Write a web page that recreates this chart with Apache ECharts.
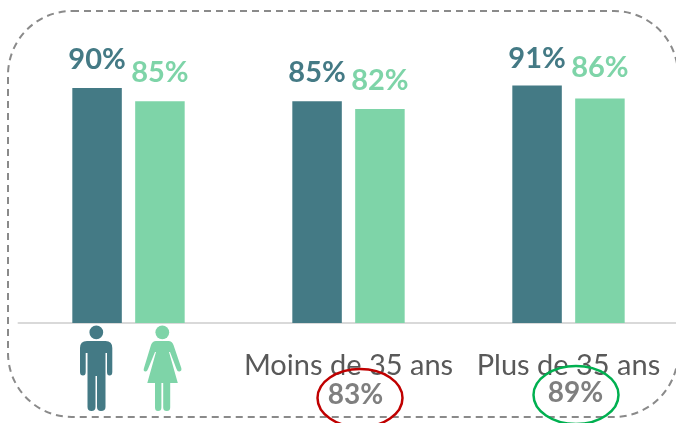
<!DOCTYPE html>
<html>
<head>
<meta charset="utf-8">
<style>html,body{margin:0;padding:0;background:#fff}#c{width:676px;height:423px}</style>
<script src="https://cdn.jsdelivr.net/npm/echarts@6/dist/echarts.min.js"></script>
</head>
<body>
<div id="c"></div>
<script>
const categories = ['', 'Moins de 35 ans', 'Plus de 35 ans'];
const hommes = [90, 85, 91];
const femmes = [85, 82, 86];
const totals = ['83%', '89%'];

const DARK = '#447A85', GREEN = '#7ED4A8', FONT = 'Lato, Carlito, "Open Sans", sans-serif';
const hommesNudge = [0, 0, 2];
const femmesNudge = [0, 0, -2];
const barSeries = (name, data, color, nudge) => ({
  name, type: 'bar', barWidth: 49.5, barGap: '27%',
  data: data.map((value, i) => ({ value, label: { offset: [0, nudge[i]] } })),
  itemStyle: { color },
  label: {
    show: true, position: 'top', distance: 14, color,
    fontFamily: FONT, fontSize: 29, fontWeight: 'bold',
    formatter: p => p.value + '%'
  }
});

const man = 'M87 341 H105.5 Q112.3 341 112.3 348 V372 Q112.3 375.5 109.5 375.5 Q107 375.5 107 372 V353 H105.5 V407 Q105.5 411 101 411 Q97 411 97 407 V376 H95.5 V407 Q95.5 411 91.5 411 Q87.5 411 87.5 407 V353 H85.7 V372 Q85.7 375.5 83 375.5 Q80 375.5 80 372 V348 Q80 341 87 341 Z';
const woman = 'M156 341 H168.5 Q172 341 173.5 345 L181.3 368 Q182 371 179.5 371.5 Q177.5 372 176.5 369 L170 352 L169 352 L177.8 383 H170.2 V407.5 Q170.2 411 166.8 411 Q163.2 411 163.2 407.5 V383 H161.4 V407.5 Q161.4 411 158 411 Q155 411 155 407.5 V383 H147.3 L156 352 L155 352 L148 369 Q147 372 145 371.5 Q143 371 144 368 L151 345 Q152.5 341 156 341 Z';
echarts.graphic.registerShape('iconMan', echarts.graphic.extendPath(man, {}));
echarts.graphic.registerShape('iconWoman', echarts.graphic.extendPath(woman, {}));

const chart = echarts.init(document.getElementById('c'), null, { renderer: 'canvas' });
chart.setOption({
  animation: false,
  backgroundColor: '#fff',
  grid: { left: 18.5, top: 62, width: 660, height: 261, containLabel: false, outerBoundsMode: 'none' },
  xAxis: {
    type: 'category', data: categories,
    axisLine: { show: true, lineStyle: { color: '#D9D9D9', width: 2 } },
    axisTick: { show: false },
    axisLabel: { color: '#595959', fontFamily: FONT, fontSize: 29, margin: 28, interval: 0 }
  },
  yAxis: { type: 'value', min: 0, max: 100, show: false, splitLine: { show: false } },
  series: [barSeries('Hommes', hommes, DARK, hommesNudge), barSeries('Femmes', femmes, GREEN, femmesNudge)],
  graphic: [
    { type: 'rect', z: 5, shape: { x: 8, y: 11, width: 670, height: 406, r: 64 },
      style: { fill: 'none', stroke: '#8A8A8A', lineWidth: 2, lineDash: [7, 5] } },
    { type: 'circle', z: 6, shape: { cx: 96.3, cy: 332.3, r: 6.9 }, style: { fill: DARK } },
    { type: 'iconMan', z: 6, style: { fill: DARK } },
    { type: 'circle', z: 6, shape: { cx: 162.3, cy: 332.3, r: 6.9 }, style: { fill: GREEN } },
    { type: 'iconWoman', z: 6, style: { fill: GREEN } },
    { type: 'text', z: 7, x: 355.5, y: 395, style: { text: totals[0], fill: '#7F7F7F', font: 'bold 28px ' + FONT, textAlign: 'center', textVerticalAlign: 'middle' } },
    { type: 'text', z: 7, x: 575.5, y: 393, style: { text: totals[1], fill: '#7F7F7F', font: 'bold 28px ' + FONT, textAlign: 'center', textVerticalAlign: 'middle' } },
    { type: 'ellipse', z: 8, shape: { cx: 360, cy: 398, rx: 42.5, ry: 29 }, style: { fill: 'none', stroke: '#C00000', lineWidth: 2.5 } },
    { type: 'ellipse', z: 8, shape: { cx: 576, cy: 395, rx: 42.5, ry: 29 }, style: { fill: 'none', stroke: '#00B050', lineWidth: 2.5 } }
  ]
});
</script>
</body>
</html>
